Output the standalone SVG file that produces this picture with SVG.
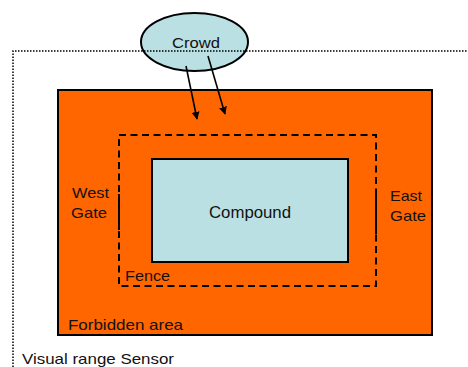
<svg xmlns="http://www.w3.org/2000/svg" width="468" height="367" viewBox="0 0 468 367">
<style>
text{font-family:"Liberation Sans",Arial,sans-serif;font-size:15px;fill:#111}
.box{stroke:#000;stroke-width:2}
.fence{fill:none;stroke:#000;stroke-width:2;stroke-dasharray:7 4.5}
.gate{stroke:#000;stroke-width:2}
.conn{stroke:#000;stroke-width:1.6;fill:none;marker-end:url(#ah)}
</style>
<defs>
<marker id="ah" viewBox="0 0 10 10" refX="9" refY="5" markerWidth="8" markerHeight="8" markerUnits="userSpaceOnUse" orient="auto">
<path d="M0,0 L10,5 L0,10 z" fill="#000"/>
</marker>
</defs>
<rect width="468" height="367" fill="#fff"/>
<g id="forbidden-area">
<rect class="box" x="58" y="90" width="374" height="245" fill="#FF6600"/>
<text x="68" y="330" textLength="115" lengthAdjust="spacingAndGlyphs">Forbidden area</text>
</g>
<g id="fence">
<rect class="fence" x="119" y="135" width="257" height="151"/>
<text x="125" y="281" textLength="45" lengthAdjust="spacingAndGlyphs">Fence</text>
</g>
<g id="west-gate">
<line class="gate" x1="119" y1="194" x2="119" y2="230"/>
<text x="72" y="198" textLength="37" lengthAdjust="spacingAndGlyphs">West</text>
<text x="71" y="218" textLength="36" lengthAdjust="spacingAndGlyphs">Gate</text>
</g>
<g id="east-gate">
<line class="gate" x1="376" y1="192" x2="376" y2="234"/>
<text x="390" y="201" textLength="32" lengthAdjust="spacingAndGlyphs">East</text>
<text x="390" y="221" textLength="36" lengthAdjust="spacingAndGlyphs">Gate</text>
</g>
<g id="compound">
<rect class="box" x="152" y="159" width="196" height="103" fill="#BBE0E3"/>
<text x="209" y="218" textLength="82" lengthAdjust="spacingAndGlyphs" style="font-size:16px">Compound</text>
</g>
<g id="crowd">
<ellipse class="box" cx="194.5" cy="42" rx="53.5" ry="29" fill="#BBE0E3"/>
<text x="172" y="48" textLength="48" lengthAdjust="spacingAndGlyphs">Crowd</text>
</g>
<g id="visual-range-sensor">
<path d="M13,367 V51 H468" fill="none" stroke="#000" stroke-width="1.5" stroke-dasharray="1.5 1.5"/>
<text x="22" y="364" textLength="152" lengthAdjust="spacingAndGlyphs">Visual range Sensor</text>
</g>
<g id="connectors">
<line class="conn" x1="186" y1="66" x2="197" y2="119"/>
<line class="conn" x1="208" y1="56" x2="225" y2="114"/>
</g>
</svg>
